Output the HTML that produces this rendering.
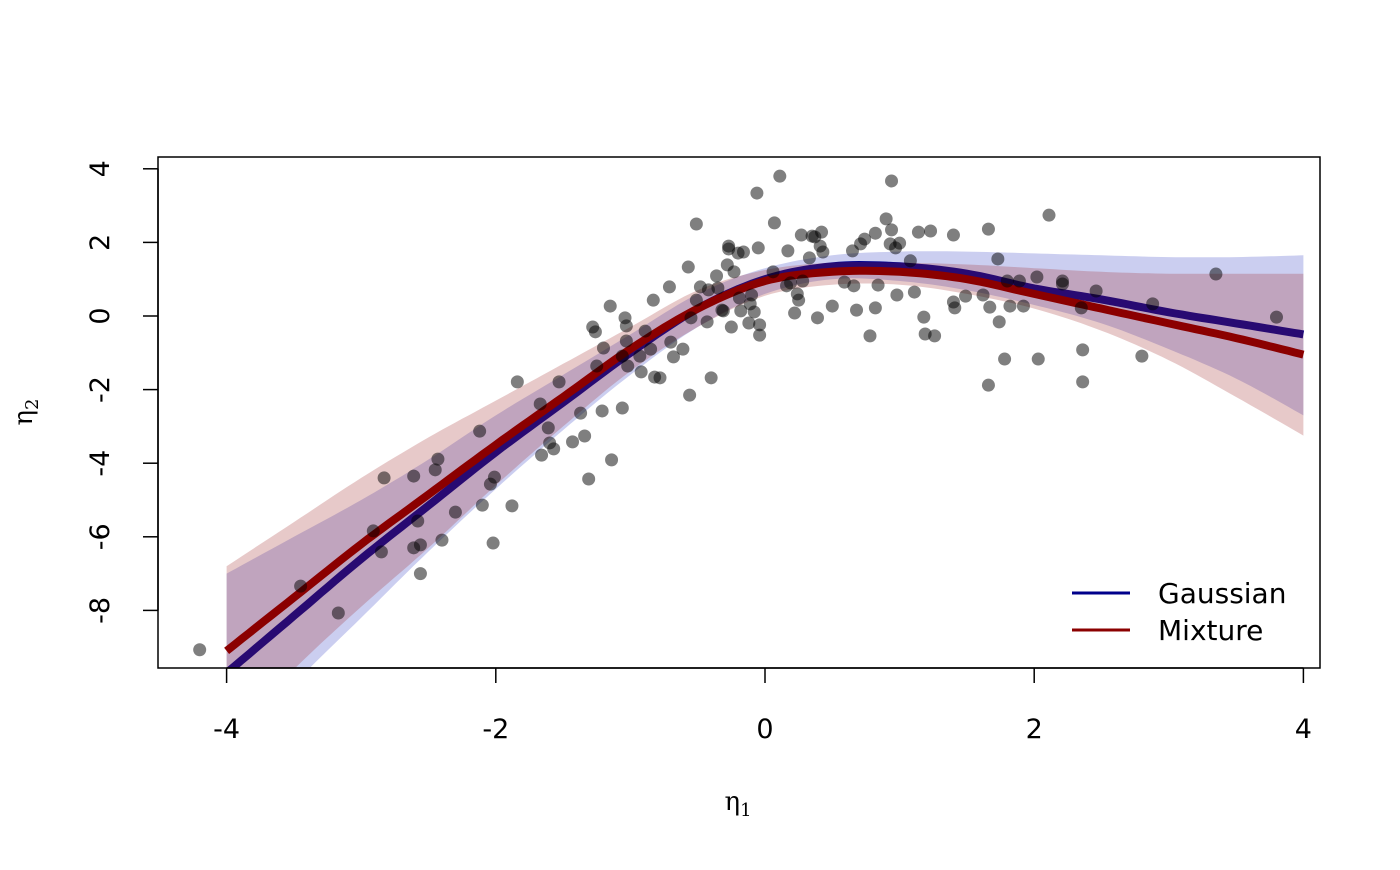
<!DOCTYPE html>
<html><head><meta charset="utf-8"><style>
body{margin:0;background:#fff;}
svg text{font-family:"DejaVu Sans","Liberation Sans",sans-serif;}
</style></head><body>
<svg id="chart" width="1400" height="865" xmlns="http://www.w3.org/2000/svg">
<defs><clipPath id="clip"><rect x="158" y="157" width="1162" height="511"/></clipPath></defs>
<g id="bands" clip-path="url(#clip)"></g>
<g id="pts" clip-path="url(#clip)"></g>
<rect x="158" y="157" width="1162" height="511" fill="none" stroke="#000" stroke-width="1.5"/>
<g id="axes"></g>
<text x="738" y="810" font-size="26" text-anchor="middle" style="font-family:'DejaVu Serif',serif">η<tspan font-size="18" dy="6">1</tspan></text>
<text transform="translate(32,412) rotate(-90)" font-size="26" text-anchor="middle" style="font-family:'DejaVu Serif',serif">η<tspan font-size="18" dy="6">2</tspan></text>
<g>
<line x1="1072" y1="593" x2="1130" y2="593" stroke="#00008b" stroke-width="3"/>
<text x="1158" y="603" font-size="28">Gaussian</text>
<line x1="1072" y1="630" x2="1130" y2="630" stroke="#8b0000" stroke-width="3"/>
<text x="1158" y="640" font-size="28">Mixture</text>
</g>
</svg>
<script>
const gridX=[-4,-3.5,-3,-2.5,-2,-1.5,-1,-0.5,0,0.5,1,1.5,2,2.5,3,3.5,4];
const gaussFit=[-9.7,-8.15,-6.6,-5.15,-3.7,-2.35,-1.0,0.2,1.0,1.35,1.35,1.15,0.75,0.45,0.1,-0.2,-0.5];
const mixFit=[-9.1,-7.65,-6.2,-4.85,-3.5,-2.2,-0.9,0.2,0.95,1.2,1.2,1.0,0.6,0.2,-0.2,-0.6,-1.05];
const gaussLow=[-12,-10.0,-8.2,-6.4,-4.7,-3.1,-1.6,-0.3,0.6,1.0,0.95,0.7,0.3,-0.2,-0.9,-1.7,-2.7];
const gaussHigh=[-7.0,-6.0,-5.0,-3.9,-2.7,-1.6,-0.5,0.6,1.3,1.65,1.75,1.75,1.7,1.65,1.6,1.6,1.65];
const mixLow=[-11.5,-9.6,-7.9,-6.3,-4.6,-3.0,-1.5,-0.3,0.55,0.85,0.85,0.6,0.2,-0.4,-1.2,-2.2,-3.25];
const mixHigh=[-6.8,-5.6,-4.4,-3.3,-2.3,-1.3,-0.3,0.7,1.25,1.45,1.45,1.4,1.3,1.2,1.15,1.15,1.15];
const xTicks=[-4,-2,0,2,4];
const yTicks=[-8,-6,-4,-2,0,2,4];
const ptsX=[-4.2,-3.45,-3.17,-2.83,-2.91,-2.85,-2.61,-2.61,-2.58,-2.56,-2.56,-2.45,-2.43,-2.4,-2.3,-2.12,-2.1,-2.04,-2.02,-2.01,-1.88,-1.84,-1.67,-1.66,-1.61,-1.6,-1.57,-1.53,-1.43,-1.37,-1.34,-1.31,-1.28,-1.26,-1.25,-1.21,-1.2,-1.15,-1.14,-1.06,-1.06,-1.04,-1.03,-1.03,-1.02,-0.93,-0.92,-0.89,-0.85,-0.83,-0.82,-0.78,-0.71,-0.7,-0.68,-0.61,-0.57,-0.56,-0.55,-0.51,-0.51,-0.48,-0.43,-0.42,-0.4,-0.36,-0.35,-0.32,-0.31,-0.28,-0.27,-0.27,-0.25,-0.23,-0.2,-0.19,-0.18,-0.16,-0.12,-0.11,-0.1,-0.08,-0.06,-0.05,-0.04,-0.04,0.06,0.07,0.11,0.16,0.17,0.19,0.22,0.24,0.25,0.27,0.28,0.33,0.35,0.37,0.39,0.41,0.42,0.43,0.5,0.59,0.65,0.66,0.68,0.71,0.74,0.78,0.82,0.82,0.84,0.9,0.93,0.94,0.94,0.97,0.98,1.0,1.08,1.11,1.14,1.18,1.19,1.23,1.26,1.4,1.4,1.41,1.49,1.62,1.66,1.66,1.67,1.73,1.74,1.78,1.8,1.82,1.89,1.92,2.02,2.03,2.11,2.21,2.21,2.35,2.36,2.36,2.46,2.8,2.88,3.35,3.8];
const ptsY=[-9.07,-7.34,-8.07,-4.4,-5.84,-6.41,-4.35,-6.3,-5.57,-6.22,-7.0,-4.18,-3.89,-6.09,-5.33,-3.13,-5.14,-4.57,-6.17,-4.38,-5.16,-1.79,-2.39,-3.78,-3.04,-3.45,-3.61,-1.79,-3.42,-2.64,-3.26,-4.43,-0.3,-0.43,-1.36,-2.58,-0.87,0.27,-3.91,-1.09,-2.5,-0.05,-0.27,-0.68,-1.36,-1.09,-1.52,-0.41,-0.9,0.43,-1.66,-1.68,0.79,-0.71,-1.11,-0.9,1.33,-2.15,-0.05,2.5,0.43,0.79,-0.16,0.71,-1.68,1.09,0.76,0.16,0.14,1.39,1.82,1.9,-0.3,1.2,1.71,0.49,0.14,1.74,-0.19,0.33,0.57,0.11,3.34,1.85,-0.52,-0.24,1.2,2.53,3.8,0.82,1.77,0.9,0.08,0.6,0.43,2.2,0.95,1.58,2.17,2.15,-0.05,1.9,2.28,1.74,0.27,0.92,1.77,0.82,0.16,1.96,2.09,-0.54,0.22,2.25,0.84,2.64,1.96,3.67,2.34,1.85,0.57,1.98,1.5,0.65,2.28,-0.03,-0.49,2.31,-0.54,2.2,0.38,0.22,0.54,0.57,2.36,-1.88,0.24,1.55,-0.16,-1.17,0.95,0.27,0.95,0.27,1.06,-1.17,2.74,0.95,0.87,0.22,-0.92,-1.79,0.68,-1.09,0.33,1.14,-0.03];

const NS='http://www.w3.org/2000/svg';
const sx=v=>765+v*134.6;
const sy=v=>316-v*36.8;
function mk(tag,attrs,parent){const e=document.createElementNS(NS,tag);for(const k in attrs)e.setAttribute(k,attrs[k]);parent.appendChild(e);return e;}
function smooth(ys){const P=gridX.map((x,i)=>[sx(x),sy(ys[i])]);const out=[];
for(let i=0;i<P.length-1;i++){const p0=P[Math.max(0,i-1)],p1=P[i],p2=P[i+1],p3=P[Math.min(P.length-1,i+2)];
for(let k=0;k<10;k++){const t=k/10,t2=t*t,t3=t2*t;
const f=(a,b,c,d)=>0.5*(2*b+(-a+c)*t+(2*a-5*b+4*c-d)*t2+(-a+3*b-3*c+d)*t3);
out.push([f(p0[0],p1[0],p2[0],p3[0]),f(p0[1],p1[1],p2[1],p3[1])]);}}
out.push(P[P.length-1]);return out;}
const bands=document.getElementById('bands');
function bandPath(lo,hi){const a=smooth(hi),b=smooth(lo).reverse();return 'M'+a.concat(b).map(p=>p[0].toFixed(1)+','+p[1].toFixed(1)).join('L')+'Z';}
function linePath(ys){return 'M'+smooth(ys).map(p=>p[0].toFixed(1)+','+p[1].toFixed(1)).join('L');}
const gb=mk('path',{d:bandPath(gaussLow,gaussHigh),fill:'rgba(70,80,200,0.28)'},bands);


const gl=mk('path',{d:linePath(gaussFit),fill:'none',stroke:'#00008b','stroke-width':8},bands);


const mb=mk('path',{d:bandPath(mixLow,mixHigh),fill:'rgba(160,40,40,0.25)'},bands);


const ml=mk('path',{d:linePath(mixFit),fill:'none',stroke:'#8b0000','stroke-width':8},bands);


const pts=document.getElementById('pts');
ptsX.forEach((x,i)=>{const c=mk('circle',{cx:sx(x),cy:sy(ptsY[i]),r:6.5,fill:'rgba(0,0,0,0.5)'},pts);

});
const axes=document.getElementById('axes');
mk('line',{x1:sx(-4),x2:sx(4),y1:668,y2:668,stroke:'#000','stroke-width':1.5},axes);
xTicks.forEach(t=>{mk('line',{x1:sx(t),x2:sx(t),y1:668,y2:683,stroke:'#000','stroke-width':1.5},axes);
const tx=mk('text',{x:sx(t),y:738,'font-size':27,'text-anchor':'middle'},axes);tx.textContent=t;

});
yTicks.forEach(t=>{mk('line',{x1:143,x2:158,y1:sy(t),y2:sy(t),stroke:'#000','stroke-width':1.5},axes);
const tx=mk('text',{transform:`translate(109,${sy(t)}) rotate(-90)`,'font-size':27,'text-anchor':'middle'},axes);tx.textContent=t;

});
mk('line',{x1:158,x2:158,y1:sy(4),y2:sy(-8),stroke:'#000','stroke-width':1.5},axes);
</script>
</body></html>
